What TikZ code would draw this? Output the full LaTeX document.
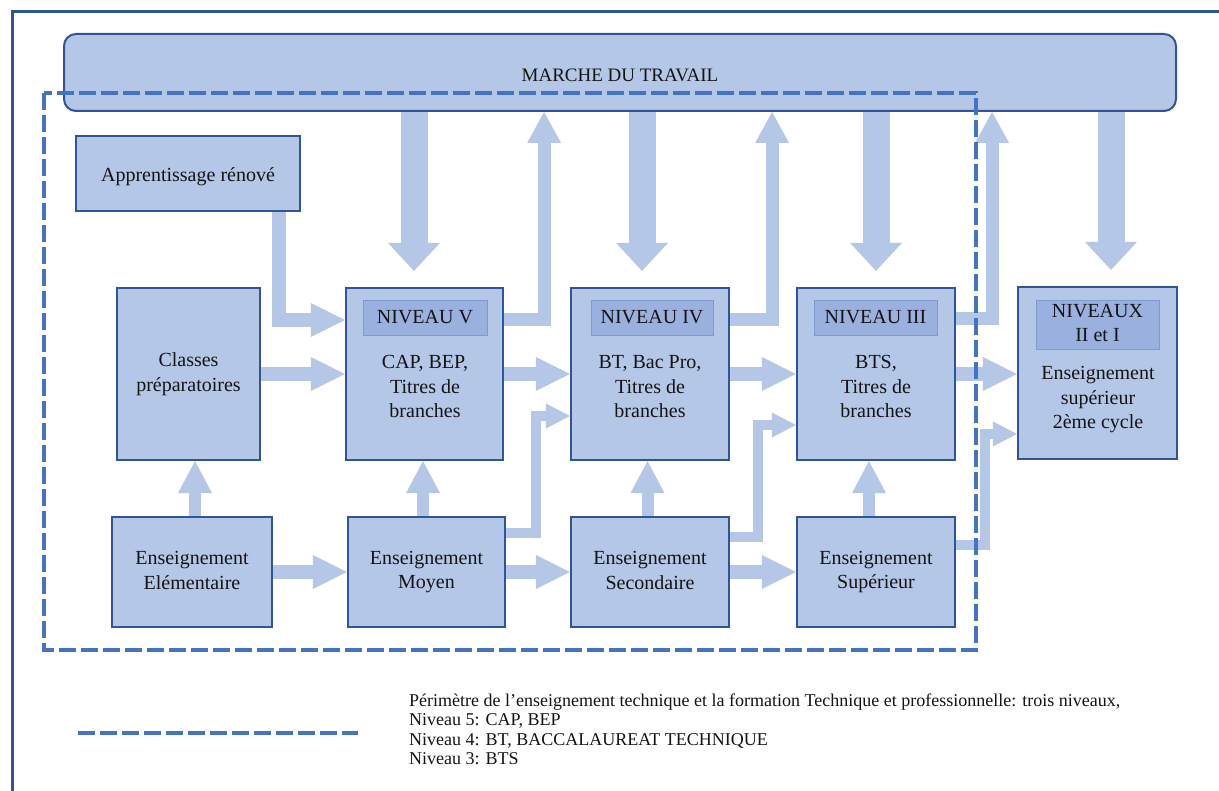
\documentclass[tikz,border=0pt]{standalone}
\usepackage{fontspec}
\setmainfont{Liberation Serif}
\usetikzlibrary{arrows.meta,calc}
\definecolor{boxfill}{HTML}{B4C7E7}
\definecolor{boxline}{HTML}{2F5597}
\definecolor{hdrfill}{HTML}{9AB0DE}
\definecolor{hdrline}{HTML}{7E9AD0}
\definecolor{arrowc}{HTML}{B4C7E7}
\definecolor{dashc}{HTML}{4472C4}
\definecolor{txt}{HTML}{141414}
\pgfdeclarelayer{bg}
\pgfsetlayers{bg,main}
\tikzset{
  mainfont/.style={font=\fontsize{20}{24.5}\selectfont},
  struts/.style={execute at begin node=\rule{0pt}{17pt}, execute at end node=\rule[-3pt]{0pt}{3pt}},
  bigbox/.style={draw=boxline, line width=2.2pt, fill=boxfill, minimum height=172pt, inner sep=0pt, text=txt, mainfont, align=center},
  lowbox/.style={draw=boxline, line width=2.2pt, fill=boxfill, minimum height=110pt, inner sep=0pt, text=txt, mainfont, align=center, struts},
  hdr/.style={draw=hdrline, line width=0.8pt, fill=hdrfill, minimum height=35pt, inner sep=0pt, text=txt, mainfont, align=center},
  body/.style={text=txt, mainfont, align=center, inner sep=0pt, struts},
  legendtxt/.style={text=txt, font=\fontsize{18}{20}\selectfont, inner sep=0pt, anchor=base west},
  harrow/.style={draw=arrowc, line width=14pt, -{Triangle[width=34pt,length=34pt,line width=0pt]}},
  varrow/.style={draw=arrowc, line width=12pt, -{Triangle[width=34pt,length=32pt,line width=0pt]}},
  elbow/.style={draw=arrowc, line width=10pt, -{Triangle[width=25pt,length=24pt,line width=0pt]}},
  uparr/.style={draw=arrowc, line width=13pt, -{Triangle[width=34pt,length=31pt,line width=0pt]}},
  downarr/.style={draw=arrowc, line width=27pt, -{Triangle[width=52pt,length=28pt,line width=0pt]}},
  perim/.style={draw=dashc, line width=4.5pt, dash pattern=on 17pt off 5pt},
  frameline/.style={draw=boxline, line width=3pt}
}
\begin{document}
\begin{tikzpicture}[x=1pt,y=-1pt]
\useasboundingbox (0,0) rectangle (1219,791);
\begin{pgfonlayer}{bg}
\fill[white] (0,0) rectangle (1219,791);
\end{pgfonlayer}
\draw[frameline] (12,791) -- (12,12) -- (1219,12);

% market
\node[draw=boxline, line width=2pt, fill=boxfill, rounded corners=12pt, minimum width=1112pt, minimum height=77pt, inner sep=0pt, text=txt, font=\fontsize{19}{23}\selectfont, text height=18pt] (marche) at (620,72.5) {MARCHE DU TRAVAIL};

% top row
\node[draw=boxline, line width=2.2pt, fill=boxfill, minimum width=224pt, minimum height=75pt, inner sep=0pt, text=txt, mainfont, text height=18pt, text depth=2pt] (appr) at (188,173.5) {Apprentissage rénové};
\node[bigbox, minimum width=143pt, struts] (cp) at (188.5,374) {Classes\\préparatoires};
\node[bigbox, minimum width=157pt] (n5) at (424.5,374) {};
\node[bigbox, minimum width=158pt] (n4) at (650,374) {};
\node[bigbox, minimum width=158pt] (n3) at (876,374) {};
\node[bigbox, minimum width=159pt] (n21) at (1097.5,373) {};

\node[hdr, minimum width=124pt] (h5) at (425,317.5) {NIVEAU V};
\node[hdr, minimum width=122pt] (h4) at (652,317.5) {NIVEAU IV};
\node[hdr, minimum width=123pt] (h3) at (875.5,317.5) {NIVEAU III};
\node[hdr, minimum width=123pt, minimum height=49pt, struts] (h21) at (1097.5,324.5) {NIVEAUX\\II et I};

\node[body] (t5) at (425,388) {CAP, BEP,\\Titres de\\branches};
\node[body] (t4) at (650,388) {BT, Bac Pro,\\Titres de\\branches};
\node[body] (t3) at (876,388) {BTS,\\Titres de\\branches};
\node[body] (t21) at (1098,400) {Enseignement\\supérieur\\2ème cycle};

% bottom row
\node[lowbox, minimum width=160pt] (ee) at (192,572) {Enseignement\\Elémentaire};
\node[lowbox, minimum width=157pt] (em) at (426.5,572) {Enseignement\\Moyen};
\node[lowbox, minimum width=158pt] (es) at (650,572) {Enseignement\\Secondaire};
\node[lowbox, minimum width=158pt] (esu) at (876,572) {Enseignement\\Supérieur};

\begin{pgfonlayer}{bg}
% horizontal arrows
\draw[harrow] ([xshift=-22pt]appr.south east) |- ([yshift=54pt]n5.west);
\draw[harrow] (cp.east) -- (n5.west);
\draw[harrow] (n5.east) -- (n4.west);
\draw[harrow] (n4.east) -- (n3.west);
\draw[harrow] (n3.east) -- (n3.east -| n21.west);
\draw[harrow] (ee.east) -- (em.west);
\draw[harrow] (em.east) -- (es.west);
\draw[harrow] (es.east) -- (esu.west);
% vertical up arrows
\draw[varrow] ([xshift=3pt]ee.north) -- ([xshift=3pt]ee.north |- cp.south);
\draw[varrow] ([xshift=-3.5pt]em.north) -- ([xshift=-3.5pt]em.north |- n5.south);
\draw[varrow] ([xshift=-2.5pt]es.north) -- ([xshift=-2.5pt]es.north |- n4.south);
\draw[varrow] ([xshift=-7pt]esu.north) -- ([xshift=-7pt]esu.north |- n3.south);
% elbow arrows
\draw[elbow] ([yshift=39pt]em.east) -- ++(30,0) |- ([yshift=-42pt]n4.west);
\draw[elbow] ([yshift=35pt]es.east) -- ++(28,0) |- ([yshift=-51pt]n3.west);
\draw[elbow] ([yshift=27pt]esu.east) -- ++(29,0) |- ([yshift=-61pt]n21.west);
% up to market
\draw[uparr] ([yshift=54pt]n5.east) -| ([xshift=40pt]n5.east |- marche.south);
\draw[uparr] ([yshift=54pt]n4.east) -| ([xshift=42pt]n4.east |- marche.south);
\draw[uparr] ([yshift=55pt]n3.east) -| ([xshift=36pt]n3.east |- marche.south);
% down from market
\draw[downarr] ([xshift=-10.5pt]n5.north |- marche.south) -- ([xshift=-10.5pt,yshift=16pt]n5.north);
\draw[downarr] ([xshift=-8pt]n4.north |- marche.south) -- ([xshift=-8pt,yshift=16pt]n4.north);
\draw[downarr] (n3.north |- marche.south) -- ([yshift=16pt]n3.north);
\draw[downarr] ([xshift=13.5pt]n21.north |- marche.south) -- ([xshift=13.5pt,yshift=16pt]n21.north);
\end{pgfonlayer}

% perimeter
\draw[perim] (44,93) rectangle (976,650);

% legend
\coordinate (lg1) at (78,733);
\coordinate (lg2) at (358,733);
\draw[perim] (lg1) -- (lg2);
\node[legendtxt] (l1) at (409,706) {Périmètre de l’enseignement technique et la formation Technique et professionnelle: trois niveaux,};
\node[legendtxt] (l2) at (409,725.5) {Niveau 5: CAP, BEP};
\node[legendtxt] (l3) at (409,745) {Niveau 4: BT, BACCALAUREAT TECHNIQUE};
\node[legendtxt] (l4) at (409,764.5) {Niveau 3: BTS};
\end{tikzpicture}
\end{document}
